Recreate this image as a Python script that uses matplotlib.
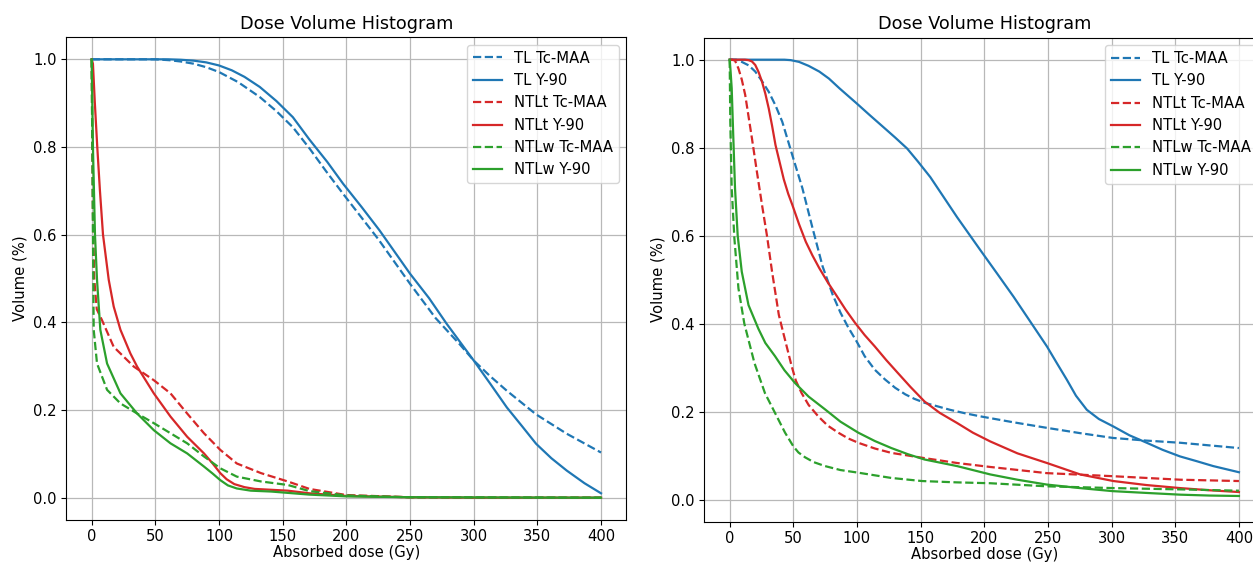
"""Dose volume histograms: Tc-MAA vs Y-90 for tumour and non-tumour liver."""

import matplotlib

matplotlib.use("Agg")
import matplotlib.pyplot as plt

# ---- left panel ----------------------------------------------------------
L_TL_TC_X = [0, 50, 61, 70, 80, 90, 100, 115, 132, 145, 158, 171, 184, 197.5, 225, 250, 270, 289,
             300, 313, 326, 349, 373, 400]
L_TL_TC_Y = [1.0, 1.0, 0.998, 0.995, 0.99, 0.982, 0.971, 0.948, 0.914, 0.882, 0.845, 0.797, 0.745,
             0.693, 0.59, 0.488, 0.41, 0.35, 0.313, 0.277, 0.244, 0.19, 0.146, 0.103]
L_TL_Y90_X = [0, 60, 70, 80, 90, 100, 110, 120, 132, 145, 158, 171, 185, 197.5, 212, 226, 250, 265,
              278.7, 300, 313, 326, 338, 349, 361, 373, 387, 400]
L_TL_Y90_Y = [1.0, 1.0, 0.999, 0.997, 0.993, 0.986, 0.975, 0.96, 0.937, 0.905, 0.868, 0.817, 0.766,
              0.716, 0.663, 0.61, 0.511, 0.455, 0.397, 0.313, 0.26, 0.206, 0.163, 0.123, 0.09,
              0.062, 0.033, 0.01]
L_NTLT_TC_X = [0, 0.4, 1.0, 2.0, 4.0, 8.1, 17.3, 33.1, 48.8, 61.9, 75, 88.2, 101, 114, 133, 154,
               171, 200, 250, 300, 400]
L_NTLT_TC_Y = [1.0, 0.85, 0.65, 0.5, 0.43, 0.405, 0.344, 0.299, 0.268, 0.238, 0.192, 0.147,
               0.109, 0.078, 0.056, 0.037, 0.02, 0.006, 0.001, 0.0, 0.0]
L_NTLT_Y90_X = [0, 1.0, 2.5, 4.4, 6.5, 8.9, 13.4, 17.3, 22.6, 30.4, 35.7, 48.8, 61.9, 75, 88.2,
                95, 101, 106, 112, 120, 128, 154, 171, 200, 250, 300, 400]
L_NTLT_Y90_Y = [1.0, 0.99, 0.9, 0.8, 0.7, 0.6, 0.497, 0.436, 0.383, 0.329, 0.299, 0.238, 0.185,
                0.139, 0.101, 0.078, 0.056, 0.042, 0.031, 0.024, 0.02, 0.016, 0.01, 0.004, 0.001,
                0.0, 0.0]
L_NTLW_TC_X = [0, 0.5, 1.0, 1.6, 4.2, 12.1, 22.6, 35.7, 48.8, 61.9, 75, 88.2, 101, 114, 133, 154,
               171, 200, 250, 400]
L_NTLW_TC_Y = [1.0, 0.8, 0.6, 0.383, 0.306, 0.246, 0.215, 0.192, 0.17, 0.147, 0.124, 0.094,
               0.067, 0.048, 0.037, 0.029, 0.015, 0.005, 0.001, 0.0]
L_NTLW_Y90_X = [0, 1.0, 2.6, 4.2, 6.8, 12.1, 22.6, 35.7, 48.8, 61.9, 75, 88.2, 95, 101, 107, 114,
                125, 141, 171, 200, 250, 400]
L_NTLW_Y90_Y = [1.0, 0.8, 0.6, 0.497, 0.383, 0.306, 0.238, 0.192, 0.154, 0.124, 0.101, 0.071,
                0.055, 0.04, 0.028, 0.021, 0.016, 0.014, 0.007, 0.003, 0.001, 0.0]

# ---- right panel ---------------------------------------------------------
R_TL_TC_X = [0, 5, 9.5, 15, 20.1, 25, 30.7, 36, 41.3, 49.2, 57.1, 65.1, 73, 81, 87, 93, 100, 106,
             114, 122, 130, 138, 145, 153, 163, 173, 185, 197, 222, 249, 275, 301, 327, 354, 377,
             400]
R_TL_TC_Y = [1.0, 1.0, 0.995, 0.987, 0.973, 0.953, 0.927, 0.896, 0.859, 0.783, 0.708, 0.617,
             0.53, 0.465, 0.425, 0.392, 0.358, 0.326, 0.295, 0.273, 0.254, 0.239, 0.229, 0.22,
             0.212, 0.204, 0.196, 0.189, 0.176, 0.163, 0.151, 0.14, 0.134, 0.129, 0.123, 0.117]
R_TL_Y90_X = [0, 43, 48, 54.5, 62, 70.4, 78, 86.2, 100, 110, 121, 130, 139.4, 148, 157.6, 168,
              178.6, 196.9, 210, 223, 236, 249.2, 257, 264.9, 272, 280.5, 290, 301.4, 314, 327.6,
              340, 353.7, 367, 379.8, 400]
R_TL_Y90_Y = [1.0, 1.0, 0.999, 0.995, 0.986, 0.973, 0.957, 0.935, 0.9, 0.874, 0.846, 0.823, 0.798,
              0.768, 0.733, 0.688, 0.642, 0.567, 0.514, 0.461, 0.405, 0.348, 0.31, 0.272, 0.236,
              0.204, 0.183, 0.166, 0.146, 0.129, 0.113, 0.098, 0.087, 0.076, 0.062]
R_NTLT_TC_X = [0, 2, 4.2, 6.9, 9.5, 12.2, 17.5, 21.4, 25.4, 29.4, 33.3, 38.6, 42.1, 45.5, 48.7, 52,
               56.5, 62, 69.6, 77, 85.3, 93, 101, 114, 127, 151, 178.6, 204.7, 249, 301, 354, 400]
R_NTLT_TC_Y = [1.0, 1.0, 0.998, 0.98, 0.955, 0.92, 0.821, 0.745, 0.67, 0.598, 0.518, 0.42, 0.379,
               0.34, 0.303, 0.27, 0.242, 0.215, 0.189, 0.168, 0.152, 0.139, 0.129, 0.116, 0.106,
               0.095, 0.083, 0.074, 0.06, 0.053, 0.045, 0.042]
R_NTLT_Y90_X = [0, 12, 14.8, 17.5, 20.1, 22.7, 25.4, 28, 30.7, 33.3, 36, 39, 42.5, 46, 49.2, 54.5,
                59.8, 65, 70.4, 77, 83.6, 91, 98.4, 106, 114, 123, 132, 142, 153, 165, 178.6, 191,
                204.7, 226, 249.2, 275.3, 301.4, 327, 353.7, 377, 400]
R_NTLT_Y90_Y = [1.0, 1.0, 0.999, 0.996, 0.988, 0.972, 0.95, 0.923, 0.889, 0.85, 0.806, 0.77,
                0.728, 0.695, 0.67, 0.626, 0.586, 0.555, 0.526, 0.494, 0.465, 0.432, 0.402, 0.374,
                0.348, 0.317, 0.288, 0.256, 0.223, 0.197, 0.174, 0.152, 0.132, 0.105, 0.083,
                0.057, 0.042, 0.033, 0.026, 0.021, 0.017]
R_NTLW_TC_X = [0, 0.5, 1.6, 3.7, 6.9, 11.5, 19.5, 27.7, 35.6, 43.5, 50, 54, 59.2, 66, 74.9, 87,
               101, 127, 151, 178, 204.7, 249, 301, 354, 400]
R_NTLW_TC_Y = [1.0, 0.86, 0.708, 0.594, 0.48, 0.4, 0.31, 0.242, 0.197, 0.152, 0.121, 0.107,
               0.096, 0.085, 0.076, 0.067, 0.061, 0.049, 0.042, 0.039, 0.037, 0.03, 0.026, 0.023,
               0.02]
R_NTLW_Y90_X = [0, 0.8, 1.6, 2.9, 4.2, 6.3, 9.5, 14.8, 22.6, 28, 35.6, 43, 51.3, 62, 74.9, 87, 101,
                114, 127, 140, 153, 178.6, 204.7, 226, 249, 275, 301, 327, 354, 377, 400]
R_NTLW_Y90_Y = [1.0, 0.97, 0.935, 0.82, 0.708, 0.6, 0.518, 0.442, 0.388, 0.356, 0.326, 0.294,
                0.265, 0.234, 0.205, 0.177, 0.152, 0.133, 0.117, 0.103, 0.091, 0.076, 0.057,
                0.045, 0.034, 0.026, 0.019, 0.015, 0.011, 0.009, 0.008]

LABELS = ["TL Tc-MAA", "TL Y-90", "NTLt Tc-MAA", "NTLt Y-90", "NTLw Tc-MAA", "NTLw Y-90"]
COLORS = ["#1f77b4", "#1f77b4", "#d62728", "#d62728", "#2ca02c", "#2ca02c"]
STYLES = ["--", "-", "--", "-", "--", "-"]

LEFT = [(L_TL_TC_X, L_TL_TC_Y), (L_TL_Y90_X, L_TL_Y90_Y), (L_NTLT_TC_X, L_NTLT_TC_Y),
        (L_NTLT_Y90_X, L_NTLT_Y90_Y), (L_NTLW_TC_X, L_NTLW_TC_Y), (L_NTLW_Y90_X, L_NTLW_Y90_Y)]
RIGHT = [(R_TL_TC_X, R_TL_TC_Y), (R_TL_Y90_X, R_TL_Y90_Y), (R_NTLT_TC_X, R_NTLT_TC_Y),
         (R_NTLT_Y90_X, R_NTLT_Y90_Y), (R_NTLW_TC_X, R_NTLW_TC_Y), (R_NTLW_Y90_X, R_NTLW_Y90_Y)]

plt.rcParams["font.size"] = 10.6

W, H = 1253, 563
fig = plt.figure(figsize=(W / 100, H / 100), dpi=100)
ax1 = fig.add_axes([66.2 / W, 1 - 519.6 / H, 560.3 / W, 482.2 / H])
ax2 = fig.add_axes([704.2 / W, 1 - 521.5 / H, 560.2 / W, 483.8 / H])


def draw(ax, curves):
    for (xs, ys), lab, col, ls in zip(curves, LABELS, COLORS, STYLES):
        ax.plot(xs, ys, ls, color=col, lw=1.6, label=lab)
    ax.set_xlim(-20, 420)
    ax.set_ylim(-0.05, 1.05)
    ax.set_xticks(range(0, 401, 50))
    ax.set_title("Dose Volume Histogram", fontsize=12.7)
    ax.set_xlabel("Absorbed dose (Gy)", labelpad=0.8)
    ax.set_ylabel("Volume (%)")
    ax.grid(True, color="#b8b8b8", lw=0.9)
    ax.legend(loc="upper right")


draw(ax1, LEFT)
draw(ax2, RIGHT)

fig.savefig("out.png", dpi=100)
